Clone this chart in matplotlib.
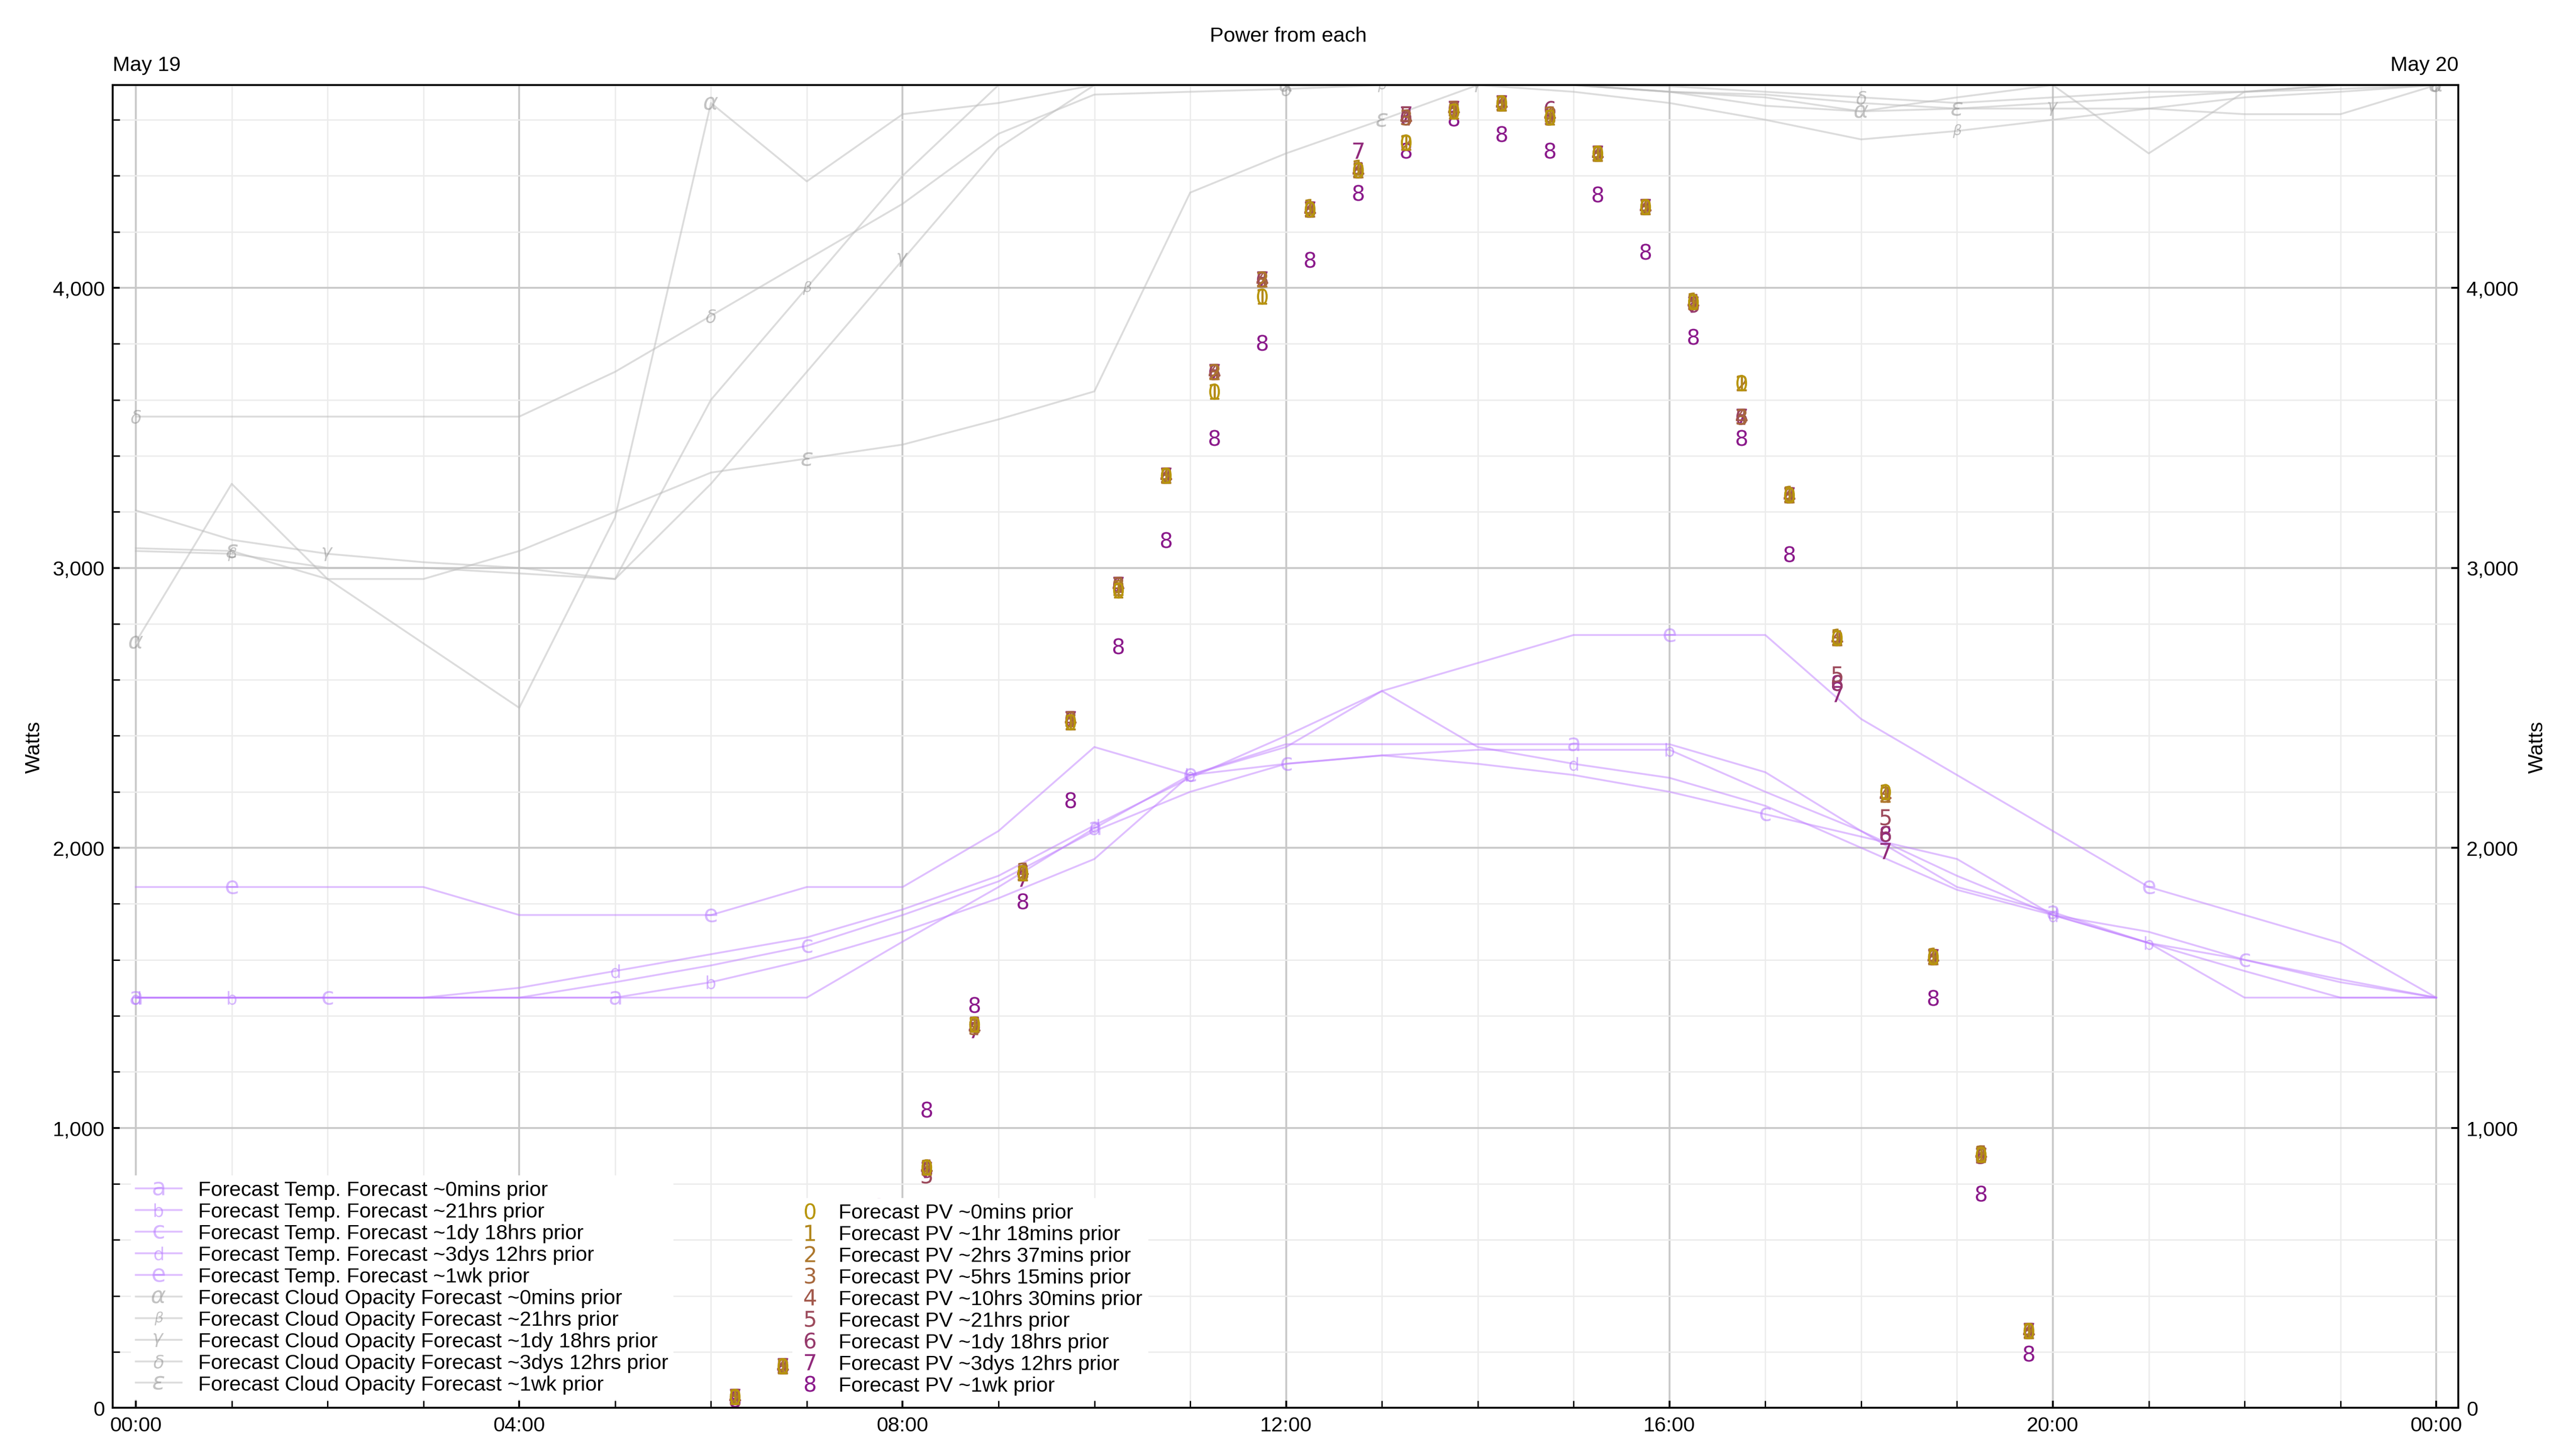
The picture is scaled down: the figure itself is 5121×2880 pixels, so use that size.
import numpy as np
import matplotlib.pyplot as plt
from matplotlib.colors import to_rgb

plt.rcParams['font.family'] = ['Liberation Sans', 'DejaVu Sans']

# PV forecasts, every 30 min from 06:15 to 19:45
pv_t = [6.25 + 0.5 * k for k in range(28)]
pv = {
    '0': [40, 150, 265, 450, 860, 1370, 1910, 2450, 2920, 3330, 3630, 3970, 4280, 4420, 4520, 4630, 4660, 4610, 4480, 4290, 3950, 3660, 3260, 2750, 2200, 1610, 905, 275],
    '1': [40, 150, 265, 450, 860, 1370, 1910, 2450, 2920, 3330, 3630, 3970, 4290, 4430, 4520, 4630, 4660, 4610, 4480, 4290, 3955, 3660, 3265, 2755, 2200, 1615, 905, 275],
    '2': [40, 150, 265, 450, 860, 1370, 1910, 2450, 2930, 3330, 3700, 4030, 4280, 4420, 4520, 4630, 4660, 4620, 4480, 4290, 3950, 3660, 3260, 2750, 2190, 1610, 910, 275],
    '3': [40, 150, 260, 450, 860, 1360, 1920, 2460, 2940, 3330, 3700, 4030, 4280, 4420, 4610, 4640, 4660, 4620, 4480, 4290, 3950, 3540, 3260, 2750, 2190, 1610, 910, 275],
    '4': [40, 150, 255, 450, 860, 1360, 1920, 2460, 2940, 3330, 3700, 4030, 4280, 4420, 4610, 4640, 4660, 4620, 4480, 4290, 3950, 3540, 3260, 2750, 2190, 1610, 910, 275],
    '5': [40, 150, 260, 450, 830, 1370, 1910, 2460, 2940, 3330, 3700, 4030, 4280, 4420, 4620, 4640, 4660, 4610, 4480, 4290, 3950, 3540, 3260, 2620, 2110, 1610, 900, 275],
    '6': [40, 150, 255, 450, 850, 1370, 1910, 2460, 2940, 3330, 3700, 4030, 4280, 4420, 4610, 4640, 4660, 4640, 4480, 4290, 3940, 3540, 3260, 2590, 2050, 1610, 900, 275],
    '7': [40, 150, 260, 450, 850, 1350, 1890, 2460, 2940, 3330, 3700, 4030, 4280, 4490, 4620, 4640, 4660, 4610, 4480, 4290, 3940, 3540, 3260, 2550, 1990, 1610, 900, 275],
    '8': [30, 150, 410, 720, 1065, 1440, 1810, 2170, 2720, 3100, 3465, 3805, 4100, 4340, 4490, 4605, 4550, 4490, 4335, 4130, 3825, 3465, 3050, 2590, 2050, 1465, 765, 195],
}
pv_labels = ['~0mins prior', '~1hr 18mins prior', '~2hrs 37mins prior', '~5hrs 15mins prior',
             '~10hrs 30mins prior', '~21hrs prior', '~1dy 18hrs prior', '~3dys 12hrs prior', '~1wk prior']

# temperature forecasts (plotted on the watts scale), hourly
temp_t = list(range(25))
temp = {
    'a': [1465, 1465, 1465, 1465, 1465, 1465, 1465, 1465, 1665, 1860, 2070, 2260, 2370, 2370, 2370, 2370, 2370, 2270, 2060, 1860, 1770, 1660, 1465, 1465, 1465],
    'b': [1465, 1465, 1465, 1465, 1465, 1465, 1520, 1600, 1700, 1820, 1960, 2260, 2300, 2330, 2350, 2350, 2350, 2200, 2060, 1900, 1760, 1660, 1560, 1465, 1465],
    'c': [1465, 1465, 1465, 1465, 1465, 1520, 1580, 1650, 1760, 1880, 2060, 2200, 2300, 2330, 2300, 2260, 2200, 2120, 2040, 1960, 1760, 1660, 1600, 1530, 1465],
    'd': [1465, 1465, 1465, 1465, 1500, 1560, 1620, 1680, 1780, 1900, 2080, 2250, 2400, 2560, 2360, 2300, 2250, 2150, 2000, 1850, 1760, 1700, 1600, 1520, 1465],
    'e': [1860, 1860, 1860, 1860, 1760, 1760, 1760, 1860, 1860, 2060, 2360, 2260, 2360, 2560, 2660, 2760, 2760, 2760, 2460, 2260, 2060, 1860, 1760, 1660, 1465],
}
temp_labels = ['~0mins prior', '~21hrs prior', '~1dy 18hrs prior', '~3dys 12hrs prior', '~1wk prior']

# cloud opacity forecasts, hourly
cloud = {
    'α': [2735, 3300, 2960, 2730, 2500, 3180, 4660, 4380, 4620, 4660, 4724, 4724, 4724, 4724, 4724, 4724, 4700, 4650, 4630, 4680, 4724, 4480, 4700, 4724, 4724],
    'β': [3060, 3050, 3000, 3000, 2980, 2960, 3600, 4000, 4400, 4724, 4724, 4724, 4724, 4724, 4724, 4700, 4660, 4600, 4530, 4560, 4600, 4640, 4680, 4700, 4724],
    'γ': [3205, 3100, 3050, 3020, 3000, 2960, 3300, 3700, 4100, 4500, 4724, 4724, 4724, 4724, 4724, 4724, 4700, 4690, 4660, 4640, 4640, 4640, 4620, 4620, 4724],
    'δ': [3540, 3540, 3540, 3540, 3540, 3700, 3900, 4100, 4300, 4550, 4690, 4700, 4710, 4724, 4724, 4724, 4720, 4700, 4680, 4660, 4680, 4700, 4700, 4724, 4724],
    'ε': [3070, 3060, 2960, 2960, 3060, 3200, 3340, 3390, 3440, 3530, 3630, 4340, 4480, 4600, 4724, 4724, 4700, 4680, 4630, 4640, 4660, 4680, 4700, 4710, 4724],
}
cloud_labels = ['~0mins prior', '~21hrs prior', '~1dy 18hrs prior', '~3dys 12hrs prior', '~1wk prior']

fig = plt.figure(figsize=(15.52, 8.73), dpi=330)
ax = fig.add_axes([0.0438, 0.0284, 0.9104, 0.9126])

temp_handles = []
for i, (k, lab) in enumerate(zip(temp, temp_labels)):
    h, = ax.plot(temp_t, temp[k], color='#c080ff', alpha=0.5, lw=0.8,
                 marker='$\\mathsf{%s}$' % k, markersize=6, markevery=slice(i % 3, None, 5),
                 markeredgewidth=0, markerfacecolor='#b070ff', label='Forecast Temp. Forecast ' + lab)
    temp_handles.append(h)

cloud_handles = []
for i, (k, lab) in enumerate(zip(cloud, cloud_labels)):
    h, = ax.plot(temp_t, cloud[k], color='#bbbbbb', alpha=0.5, lw=0.8,
                 marker='$%s$' % k, markersize=6, markevery=slice(i % 3, None, 6),
                 markeredgewidth=0, markerfacecolor='#888888', label='Forecast Cloud Opacity Forecast ' + lab)
    cloud_handles.append(h)

c0 = np.array(to_rgb('#b8960c'))
c8 = np.array(to_rgb('#8b1a8b'))
pv_handles = []
for i, (k, lab) in enumerate(zip(pv, pv_labels)):
    col = c0 + (c8 - c0) * i / 8
    h, = ax.plot(pv_t, pv[k], ls='none', marker='$%s$' % k, markersize=7, markeredgewidth=0,
                 color=col, label='Forecast PV ' + lab, zorder=10 - i)
    pv_handles.append(h)

ax.set_xlim(-0.24, 24.23)
ax.set_ylim(0, 4724)
ax.set_xticks(range(0, 25, 4))
ax.set_xticklabels(['00:00', '04:00', '08:00', '12:00', '16:00', '20:00', '00:00'])
ax.set_xticks(range(0, 25), minor=True)
ax.set_yticks(range(0, 5000, 1000))
ax.set_yticks(range(0, 4724, 200), minor=True)
ax.yaxis.set_major_formatter(plt.FuncFormatter(lambda v, p: f'{int(v):,}'))
ax.grid(which='major', color='#c8c8c8', lw=0.8)
ax.grid(which='minor', color='#ececec', lw=0.6)
ax.tick_params(labelsize=9, length=3, direction='in', which='both')
for s in ax.spines.values():
    s.set_color('#aaaaaa')
ax.set_ylabel('Watts', fontsize=9)

ax2 = ax.twinx()
ax2.set_ylim(ax.get_ylim())
ax2.set_yticks(range(0, 5000, 1000))
ax2.yaxis.set_major_formatter(plt.FuncFormatter(lambda v, p: f'{int(v):,}'))
ax2.tick_params(labelsize=9, length=3, direction='in')
ax2.set_ylabel('Watts', fontsize=9)

ax.text(0, 1.008, 'May 19', transform=ax.transAxes, fontsize=9, ha='left', va='bottom')
ax.text(1, 1.008, 'May 20', transform=ax.transAxes, fontsize=9, ha='right', va='bottom')
fig.text(0.5, 0.975, 'Power from each', fontsize=9, ha='center', va='center')

leg1 = ax2.legend(handles=temp_handles + cloud_handles, loc='upper left', bbox_to_anchor=(0.008, 0.175),
                  fontsize=9, frameon=True, fancybox=False, edgecolor='white', framealpha=1,
                  handlelength=2.2, labelspacing=0.12, borderpad=0.2, borderaxespad=0)
ax2.add_artist(leg1)
ax2.legend(handles=pv_handles, loc='upper left', bbox_to_anchor=(0.29, 0.158),
           fontsize=9, frameon=True, fancybox=False, edgecolor='white', framealpha=1,
           handlelength=1.2, labelspacing=0.12, borderpad=0.2, borderaxespad=0)

fig.savefig('out.png', dpi=330)
